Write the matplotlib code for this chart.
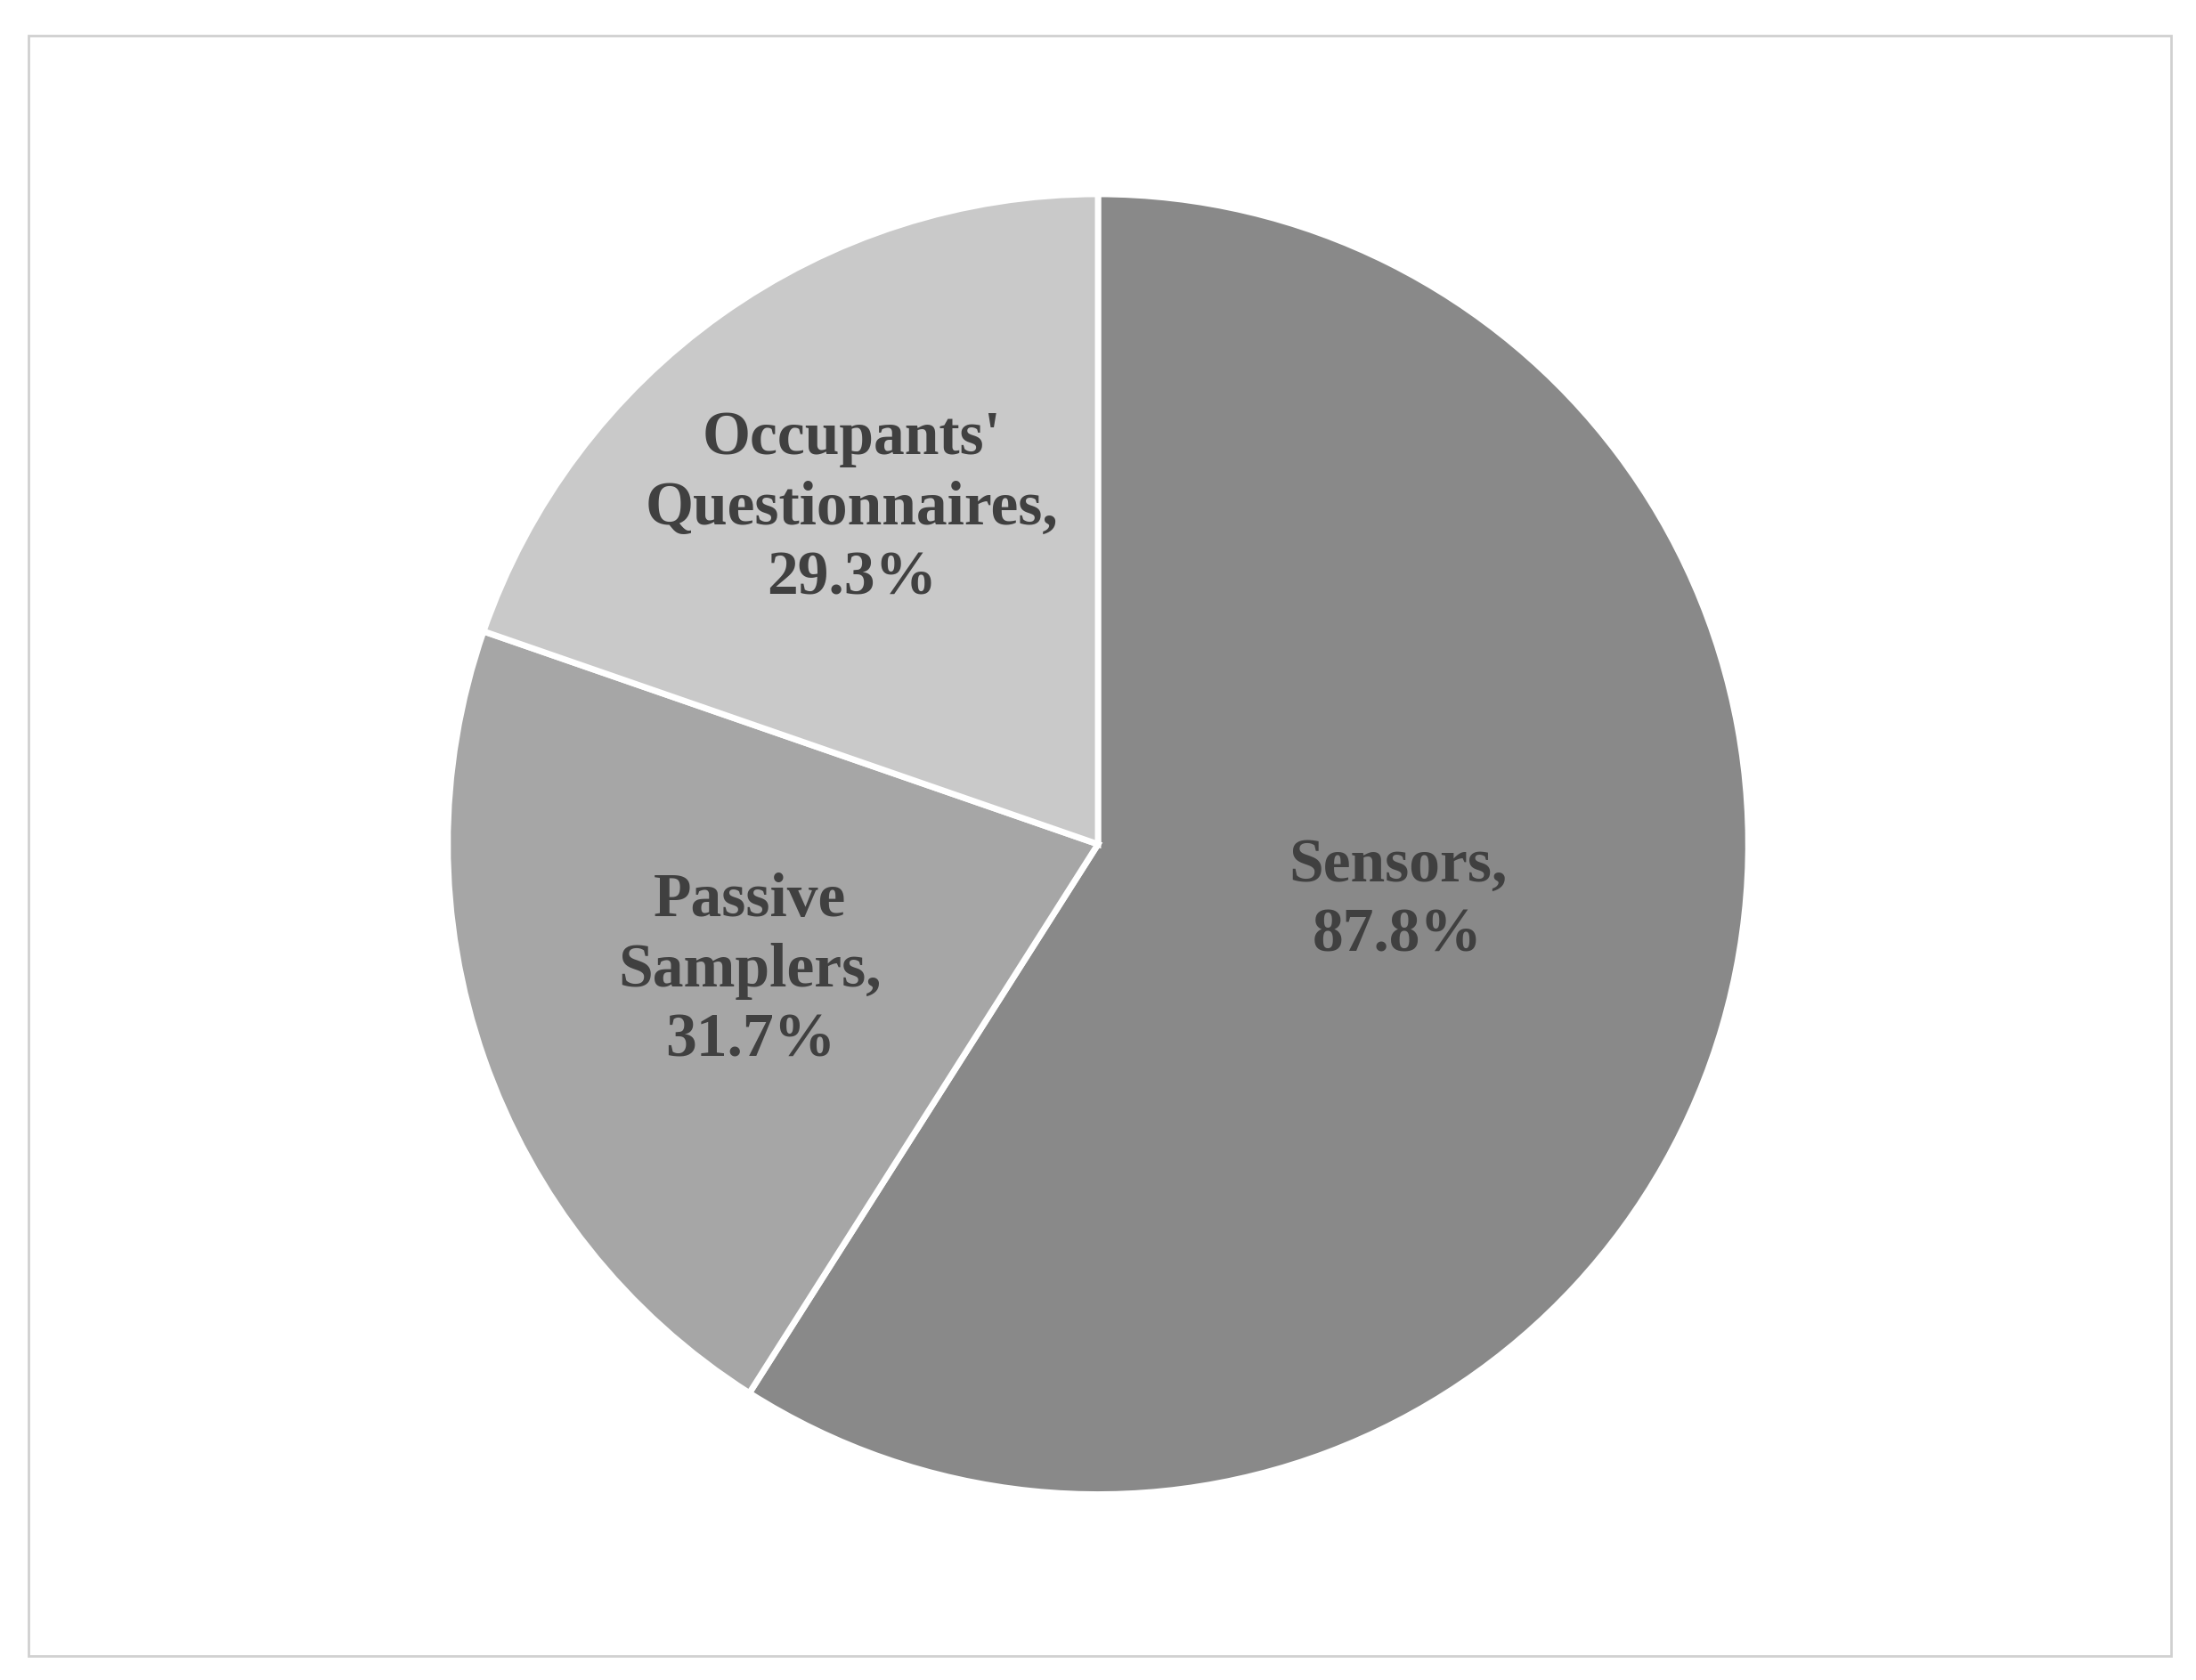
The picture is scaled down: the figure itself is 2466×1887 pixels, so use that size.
import matplotlib
matplotlib.use("Agg")
import matplotlib.pyplot as plt
from matplotlib.patches import Rectangle

categories = ["Sensors", "Passive\nSamplers", "Occupants'\nQuestionnaires"]
values = [87.8, 31.7, 29.3]
colors = ["#898989", "#a6a6a6", "#c9c9c9"]
label_pos = [(0.461, -0.087), (-0.535, -0.195), (-0.379, 0.515)]

fig = plt.figure(figsize=(24.66, 18.87), dpi=100)
fig.patch.set_facecolor("white")
fig.add_artist(Rectangle((20/1560, 1-1177/1194), 1522/1560, 1152/1194,
                         transform=fig.transFigure, fill=False,
                         edgecolor="#d0d0d0", linewidth=2))
h = 0.774
w = h * 1887 / 2466
cy = 1 - 600/1194
ax = fig.add_axes([0.5 - w/2, cy - h/2, w, h])
ax.pie(values, colors=colors, startangle=90, counterclock=False,
       wedgeprops=dict(edgecolor="white", linewidth=5), radius=1)
for c, v, (x, y) in zip(categories, values, label_pos):
    ax.text(x, y, f"{c},\n{v:.1f}%", ha="center", va="center",
            fontsize=50, fontweight="bold", family="Liberation Serif",
            color="#404040", linespacing=1.3)
ax.set_xlim(-1, 1)
ax.set_ylim(-1, 1)
ax.set_aspect("equal")
fig.savefig("out.png", dpi=100)
